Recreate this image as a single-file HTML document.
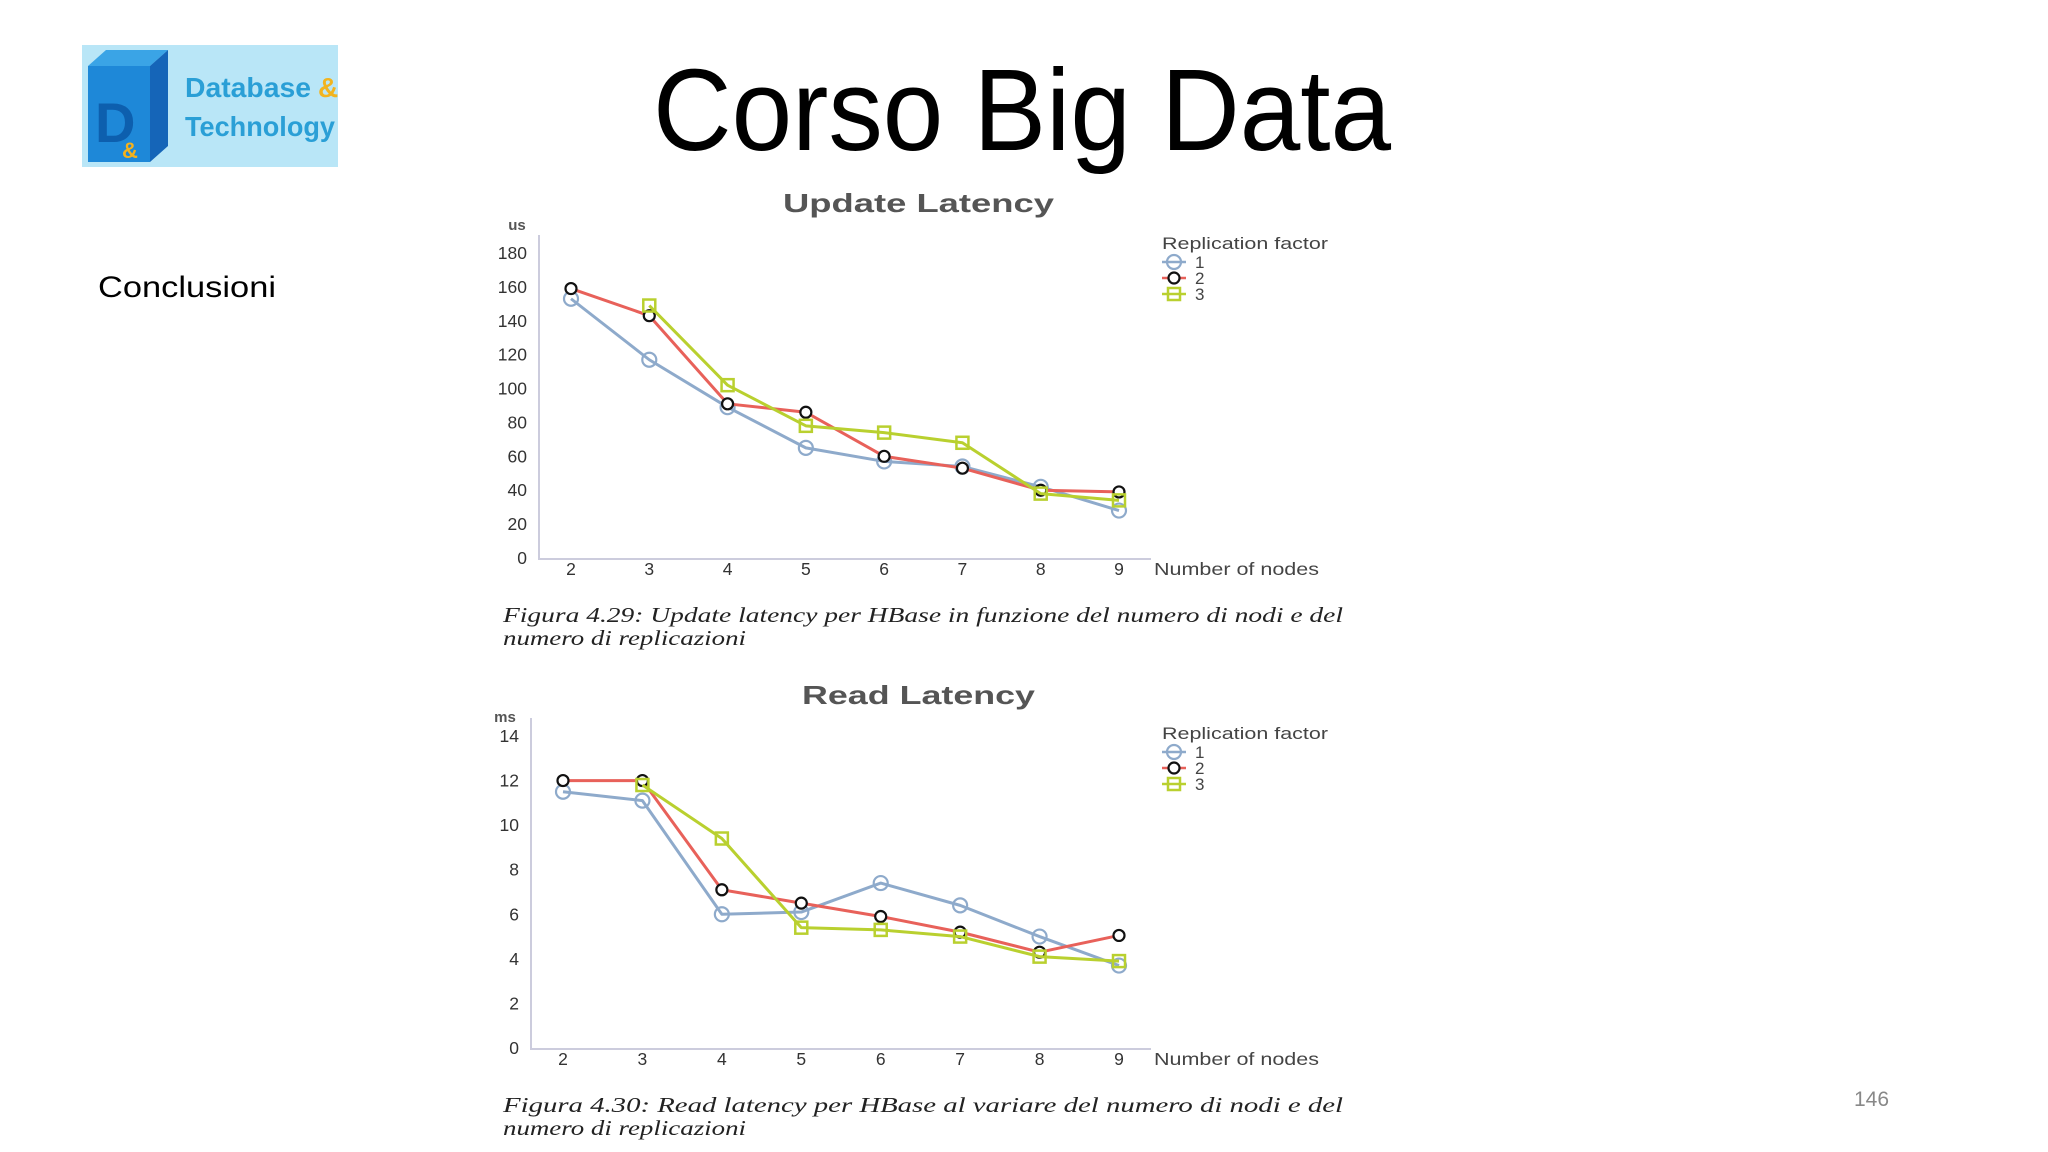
<!DOCTYPE html>
<html><head><meta charset="utf-8"><style>
html,body{margin:0;padding:0;background:#fff;}
svg{display:block;}
</style></head><body>
<svg id="slide" width="2048" height="1152" viewBox="0 0 2048 1152" xmlns="http://www.w3.org/2000/svg">
<g>
  <rect x="82" y="45" width="256" height="122" fill="#b9e6f7"/>
  <polygon points="88,66 106,50 168,50 150,66" fill="#3aa4e6"/>
  <polygon points="150,66 168,50 168,146 150,162" fill="#1565b8"/>
  <rect x="88" y="66" width="62" height="96" fill="#1e88d8"/>
  <text x="95" y="142" font-family="Liberation Sans, sans-serif" font-weight="bold" font-size="56" fill="#0d5fae">D</text>
  <text x="122" y="158" font-family="Liberation Sans, sans-serif" font-weight="bold" font-size="22" fill="#f5b21b">&amp;</text>
  <text x="185" y="97" font-family="Liberation Sans, sans-serif" font-weight="bold" font-size="28" fill="#2a9fd6" textLength="126" lengthAdjust="spacingAndGlyphs">Database</text>
  <text x="318" y="97" font-family="Liberation Sans, sans-serif" font-weight="bold" font-size="28" fill="#f2b41f">&amp;</text>
  <text x="185" y="136" font-family="Liberation Sans, sans-serif" font-weight="bold" font-size="28" fill="#2a9fd6" textLength="150" lengthAdjust="spacingAndGlyphs">Technology</text>
</g>
<text x="653" y="150" font-family="Liberation Sans, sans-serif" font-size="116" fill="#000" textLength="738" lengthAdjust="spacingAndGlyphs">Corso Big Data</text>
<text x="98" y="297" font-family="Liberation Sans, sans-serif" font-size="30" fill="#000" textLength="178" lengthAdjust="spacingAndGlyphs">Conclusioni</text>
<text x="1854" y="1106" font-family="Liberation Sans, sans-serif" font-size="21" fill="#888">146</text>
<g id="chart1"></g>
<g id="chart2"></g>
</svg>
<script>
const categories = [2,3,4,5,6,7,8,9];
const updateS1 = [153,117,89,65,57,54,42,28];
const updateS2 = [159,143,91,86,60,53,40,39];
const updateS3 = [null,149,102,78,74,68,38,34];
const updateTicks = [0,20,40,60,80,100,120,140,160,180];
const readS1 = [11.5,11.1,6.0,6.1,7.4,6.4,5.0,3.7];
const readS2 = [12.0,12.0,7.1,6.5,5.9,5.2,4.3,5.05];
const readS3 = [null,11.8,9.4,5.4,5.3,5.0,4.1,3.9];
const readTicks = [0,2,4,6,8,10,12,14];
const legendLabels = ["1","2","3"];

const NS = "http://www.w3.org/2000/svg";
function mk(parent, tag, attrs, txt){
  const e = document.createElementNS(NS, tag);
  for (const k in attrs) e.setAttribute(k, attrs[k]);
  if (txt !== undefined) e.textContent = txt;
  parent.appendChild(e);
  return e;
}
const colors = ["#8eaacb","#e8615a","#b9d02f"];
const markerStroke = ["#8eaacb","#111","#b9d02f"];

function marker(g, kind, x, y, name){
  let m;
  if (kind === 2) {
    m = mk(g, "rect", {x:x-6, y:y-6, width:12, height:12, fill:"none", stroke:markerStroke[2], "stroke-width":2.5});
  } else {
    m = mk(g, "circle", {cx:x, cy:y, r: kind===0?7:5.5, fill: kind===0?"none":"#fff", stroke:markerStroke[kind], "stroke-width":2.2});
  }
  
  
}

function drawChart(cfg){
  const g = document.getElementById(cfg.id);
  const xs = v => cfg.x2 + (v - 2) * (cfg.x9 - cfg.x2) / 7;
  const ys = v => cfg.y0 - v * (cfg.y0 - cfg.yTop) / cfg.maxV;
  const font = "Liberation Sans, sans-serif";
  const t = mk(g, "text", {x:cfg.titleX, y:cfg.titleY, "font-family":font, "font-weight":"bold", "font-size":26, fill:"#555", textLength:cfg.titleW, lengthAdjust:"spacingAndGlyphs"}, cfg.title);
  
  
  const u = mk(g, "text", {x:cfg.unitX, y:cfg.unitY, "text-anchor":"middle", "font-family":font, "font-weight":"bold", "font-size":15, fill:"#555"}, cfg.unit);
  
  
  const ax = mk(g, "path", {d:`M${cfg.axisX},${cfg.yTop-18} V${cfg.y0+1} H1151`, fill:"none", stroke:"#ccd", "stroke-width":2});
  
  
  cfg.ticks.forEach(v => {
    const tl = mk(g, "text", {x:cfg.axisX-12, y:ys(v)+6, "text-anchor":"end", "font-family":font, "font-size":17.5, fill:"#333"}, String(v));
    
    
  });
  categories.forEach(c => {
    const tl = mk(g, "text", {x:xs(c), y:cfg.y0+17, "text-anchor":"middle", "font-family":font, "font-size":17.5, fill:"#333"}, String(c));
    
    
  });
  const xl = mk(g, "text", {x:1154, y:cfg.y0+17, "font-family":font, "font-size":17.5, fill:"#444", textLength:165, lengthAdjust:"spacingAndGlyphs"}, "Number of nodes");
  
  
  cfg.series.forEach((s, i) => {
    const pts = [];
    s.forEach((v, j) => { if (v !== null) pts.push([xs(categories[j]), ys(v)]); });
    const pl = mk(g, "polyline", {points: pts.map(p => p.join(",")).join(" "), fill:"none", stroke:colors[i], "stroke-width":3, "stroke-linejoin":"round"});
    
    
    pts.forEach(p => marker(g, i, p[0], p[1], 'point-series-' + (i+1)));
  });
  const lg = mk(g, "g", {});
  
  
  mk(lg, "text", {x:1162, y:cfg.legY+6, "font-family":font, "font-size":16.5, fill:"#444", textLength:166, lengthAdjust:"spacingAndGlyphs"}, "Replication factor");
  legendLabels.forEach((lab, i) => {
    const ly = cfg.legY + 19 + i * 16;
    mk(lg, "line", {x1:1162, x2:1186, y1:ly, y2:ly, stroke:colors[i], "stroke-width":2.5});
    marker(lg, i, 1174, ly, 'legend-marker-' + (i+1));
    const le = mk(lg, "text", {x:1195, y:ly+6, "font-family":font, "font-size":17, fill:"#444"}, lab);
    
    
  });
  const cap = mk(g, "g", {});
  
  
  mk(cap, "text", {x:503, y:cfg.capY+7, "font-family":"Liberation Serif, serif", "font-style":"italic", "font-size":21, fill:"#222", textLength:840, lengthAdjust:"spacingAndGlyphs"}, cfg.cap1);
  mk(cap, "text", {x:503, y:cfg.capY+30, "font-family":"Liberation Serif, serif", "font-style":"italic", "font-size":21, fill:"#222", textLength:243, lengthAdjust:"spacingAndGlyphs"}, "numero di replicazioni");
}

drawChart({id:"chart1", title:"Update Latency", titleX:783, titleW:271, titleY:212, unit:"us", unitX:517, unitY:230,
  x2:571, x9:1119, y0:558, yTop:253, maxV:180, axisX:539, ticks:updateTicks,
  series:[updateS1, updateS2, updateS3], legY:243, capY:615,
  cap1:"Figura 4.29: Update latency per HBase in funzione del numero di nodi e del"});
drawChart({id:"chart2", title:"Read Latency", titleX:802, titleW:233, titleY:704, unit:"ms", unitX:505, unitY:722,
  x2:563, x9:1119, y0:1048, yTop:736, maxV:14, axisX:531, ticks:readTicks,
  series:[readS1, readS2, readS3], legY:733, capY:1105,
  cap1:"Figura 4.30: Read latency per HBase al variare del numero di nodi e del"});
</script>
</body></html>
